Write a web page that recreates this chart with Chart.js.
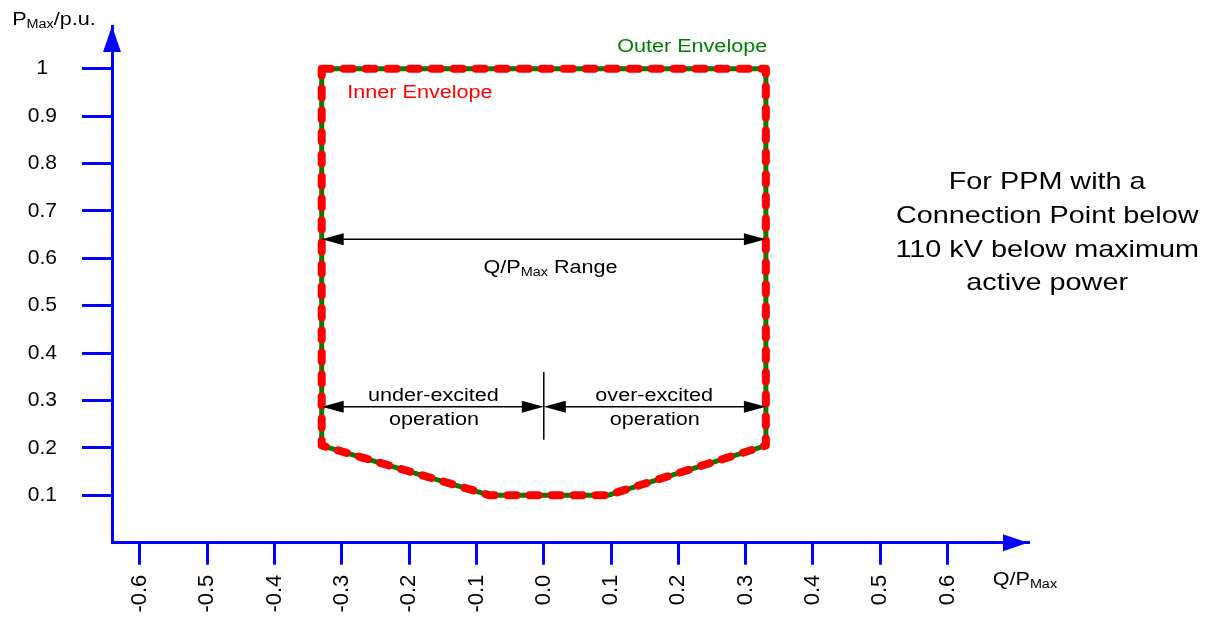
<!DOCTYPE html>
<html>
<head>
<meta charset="utf-8">
<script src="https://cdn.jsdelivr.net/npm/chart.js@4.4.1/dist/chart.umd.min.js"></script>
<style>
  html, body { margin: 0; padding: 0; background: #fff; }
  #wrap { width: 1208px; height: 618px; }
</style>
</head>
<body>
<div id="wrap"><canvas id="pq"></canvas></div>
<script>
// envelope corners (Q/Pmax, P/Pmax), path starts top-left
const qOuter = [-0.33, 0.33, 0.33, 0.095, -0.08, -0.33, -0.33];
const pOuter = [1, 1, 0.205, 0.1, 0.1, 0.205, 1];
const qInner = [-0.33, 0.33, 0.33, 0.095, -0.08, -0.33, -0.33];
const pInner = [1, 1, 0.205, 0.1, 0.1, 0.205, 1];

const xTicks = [-0.6, -0.5, -0.4, -0.3, -0.2, -0.1, 0, 0.1, 0.2, 0.3, 0.4, 0.5, 0.6];
const xTickLabels = ["-0.6", "-0.5", "-0.4", "-0.3", "-0.2", "-0.1", "0.0", "0.1", "0.2", "0.3", "0.4", "0.5", "0.6"];
const yTicks = [0.1, 0.2, 0.3, 0.4, 0.5, 0.6, 0.7, 0.8, 0.9, 1];
const yTickLabels = ["0.1", "0.2", "0.3", "0.4", "0.5", "0.6", "0.7", "0.8", "0.9", "1"];

const blue = "#0000ff";
const green = "#008000";
const red = "#ff0000";
const fontFam = '"Liberation Sans", Arial, Helvetica, sans-serif';
const textStretch = 1.2;

const toPoints = (xs, ys) => xs.map((x, i) => ({ x: x, y: ys[i] }));

// text made of parts (for the "Max" subscripts), stretched a bit wide like the original
const richText = (ctx, parts, x, y, align, color) => {
    ctx.save();
    ctx.fillStyle = color;
    ctx.textBaseline = "alphabetic";
    ctx.textAlign = "left";
    let w = 0;
    parts.forEach((p) => {
        ctx.font = p.size + "px " + fontFam;
        p.w = ctx.measureText(p.t).width;
        w += p.w;
    });
    ctx.translate(x, y);
    ctx.scale(textStretch, 1);
    let cx = 0;
    if (align == "center") cx = -w / 2;
    if (align == "right") cx = -w;
    parts.forEach((p) => {
        ctx.font = p.size + "px " + fontFam;
        ctx.fillText(p.t, cx, p.dy || 0);
        cx += p.w;
    });
    ctx.restore();
};

const head = (ctx, tx, ty, dx, dy, len, half) => {
    // arrow head with tip at (tx,ty) pointing in direction (dx,dy)
    const px = -dy, py = dx;
    ctx.beginPath();
    ctx.moveTo(tx, ty);
    ctx.lineTo(tx - dx * len + px * half, ty - dy * len + py * half);
    ctx.lineTo(tx - dx * len - px * half, ty - dy * len - py * half);
    ctx.closePath();
    ctx.fill();
};

const sub = (a, b, c) => {
    const parts = [{ t: a, size: 18 }, { t: "Max", size: 12, dy: 3 }];
    if (c) parts.push({ t: c, size: 18 });
    return parts;
};

const dimArrows = [
    { x1: -0.33, x2: 0.33, y: 0.64 },
    { x1: -0.33, x2: 0, y: 0.287 },
    { x1: 0, x2: 0.33, y: 0.287 },
];

const labels = [
    { parts: [{ t: "Outer Envelope", size: 18 }], x: 0.332, y: 1.035, align: "right", color: green },
    { parts: [{ t: "Inner Envelope", size: 18 }], x: -0.292, y: 0.938, align: "left", color: red },
    { parts: sub("Q/P", "Max", " Range"), x: 0.01, y: 0.569, align: "center", color: "#000" },
    { parts: [{ t: "under-excited", size: 18 }], x: -0.164, y: 0.299, align: "center", color: "#000" },
    { parts: [{ t: "operation", size: 18 }], x: -0.163, y: 0.248, align: "center", color: "#000" },
    { parts: [{ t: "over-excited", size: 18 }], x: 0.164, y: 0.299, align: "center", color: "#000" },
    { parts: [{ t: "operation", size: 18 }], x: 0.165, y: 0.248, align: "center", color: "#000" },
    { parts: [{ t: "For PPM with a", size: 24 }], x: 0.748, y: 0.746, align: "center", color: "#000" },
    { parts: [{ t: "Connection Point below", size: 24 }], x: 0.748, y: 0.674, align: "center", color: "#000" },
    { parts: [{ t: "110 kV below maximum", size: 24 }], x: 0.748, y: 0.603, align: "center", color: "#000" },
    { parts: [{ t: "active power", size: 24 }], x: 0.748, y: 0.533, align: "center", color: "#000" },
    { parts: sub("P", "Max", "/p.u."), x: -0.79, y: 1.092, align: "left", color: "#000" },
    { parts: sub("Q/P", "Max"), x: 0.667, y: -0.089, align: "left", color: "#000" },
];

const annotations = {
    id: "annotations",
    afterDraw(chart) {
        const ctx = chart.ctx;
        const xs = chart.scales.x;
        const ys = chart.scales.y;
        const area = chart.chartArea;

        // axis arrow heads
        ctx.save();
        ctx.fillStyle = blue;
        head(ctx, area.left, area.top, 0, -1, 26, 9);
        head(ctx, area.right, area.bottom, 1, 0, 25, 8.5);
        ctx.restore();

        // dimension arrows
        ctx.save();
        ctx.strokeStyle = "#000";
        ctx.fillStyle = "#000";
        ctx.lineWidth = 1.5;
        dimArrows.forEach((a) => {
            const x1 = xs.getPixelForValue(a.x1);
            const x2 = xs.getPixelForValue(a.x2);
            const y = ys.getPixelForValue(a.y);
            ctx.beginPath();
            ctx.moveTo(x1 + 10, y);
            ctx.lineTo(x2 - 10, y);
            ctx.stroke();
            head(ctx, x1, y, -1, 0, 22, 6);
            head(ctx, x2, y, 1, 0, 22, 6);
        });
        const x0 = xs.getPixelForValue(0);
        ctx.beginPath();
        ctx.moveTo(x0, ys.getPixelForValue(0.36));
        ctx.lineTo(x0, ys.getPixelForValue(0.217));
        ctx.stroke();
        ctx.restore();

        labels.forEach((l) => {
            richText(ctx, l.parts, xs.getPixelForValue(l.x), ys.getPixelForValue(l.y), l.align, l.color);
        });
    },
};

new Chart(document.getElementById("pq"), {
    type: "scatter",
    data: {
        datasets: [
            {
                label: "Outer Envelope",
                data: toPoints(qOuter, pOuter),
                showLine: true,
                borderColor: green,
                borderWidth: 5,
                borderJoinStyle: "round",
                pointRadius: 0,
                order: 1,
                clip: false,
            },
            {
                label: "Inner Envelope",
                data: toPoints(qInner, pInner),
                showLine: true,
                borderColor: red,
                borderWidth: 8,
                borderDash: [9, 13],
                borderCapStyle: "round",
                borderJoinStyle: "round",
                pointRadius: 0,
                order: 0,
                clip: false,
            },
        ],
    },
    options: {
        responsive: true,
        maintainAspectRatio: false,
        animation: false,
        layout: { padding: { top: 26, right: 180, left: 0, bottom: 0 } },
        plugins: {
            legend: { display: false },
            tooltip: { enabled: false },
        },
        scales: {
            x: {
                type: "linear",
                min: -0.6416,
                max: 0.7195,
                afterBuildTicks: (scale) => {
                    scale.ticks = xTicks.map((v) => ({ value: v }));
                },
                afterFit: (scale) => {
                    scale.height = 75.3;
                    scale.paddingLeft = 0;
                    scale.paddingRight = 0;
                },
                grid: {
                    drawOnChartArea: false,
                    drawTicks: true,
                    tickLength: 22,
                    color: blue,
                    lineWidth: 3,
                },
                border: { display: true, color: blue, width: 3 },
                ticks: {
                    autoSkip: false,
                    minRotation: 90,
                    maxRotation: 90,
                    padding: 10,
                    color: "#000",
                    font: { family: fontFam, size: 22 },
                    callback: (value, index) => xTickLabels[index],
                },
            },
            y: {
                type: "linear",
                min: 0,
                max: 1.09,
                afterBuildTicks: (scale) => {
                    scale.ticks = yTicks.map((v) => ({ value: v }));
                },
                afterFit: (scale) => {
                    scale.width = 112;
                    scale.paddingTop = 0;
                    scale.paddingBottom = 0;
                },
                grid: {
                    drawOnChartArea: false,
                    drawTicks: true,
                    tickLength: 30,
                    color: blue,
                    lineWidth: 3,
                },
                border: { display: true, color: blue, width: 3 },
                ticks: {
                    crossAlign: "center",
                    padding: 25,
                    color: "#000",
                    font: { family: fontFam, size: 21 },
                    callback: (value, index) => yTickLabels[index],
                },
            },
        },
    },
    plugins: [annotations],
});
</script>
</body>
</html>
